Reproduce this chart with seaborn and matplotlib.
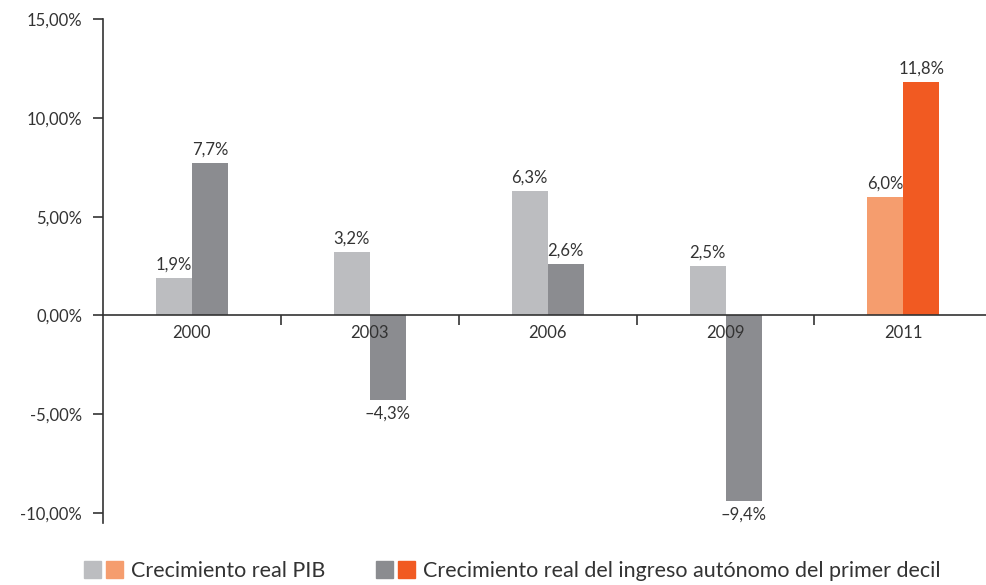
import numpy as np
import pandas as pd
import matplotlib
matplotlib.use("Agg")
import matplotlib.pyplot as plt
import seaborn as sns
from matplotlib.patches import Patch
from matplotlib.legend_handler import HandlerTuple
from matplotlib.ticker import FixedLocator, FuncFormatter

# Data
years = ["2000", "2003", "2006", "2009", "2011"]
pib = [1.9, 3.2, 6.3, 2.5, 6.0]
ingreso = [7.7, -4.3, 2.6, -9.4, 11.8]
series_names = ["Crecimiento real PIB",
                "Crecimiento real del ingreso autónomo del primer decil"]

light_gray = "#BCBDC0"
dark_gray = "#8B8C90"
light_orange = "#F59D6E"
orange = "#F15A22"
text_color = "#333333"

df = pd.DataFrame({
    "year": years * 2,
    "serie": [series_names[0]] * len(years) + [series_names[1]] * len(years),
    "value": pib + ingreso,
})

sns.set_style("white")
plt.rcParams["font.family"] = ["Lato", "DejaVu Sans"]
plt.rcParams["text.color"] = text_color

fig = plt.figure(figsize=(9.87, 5.85), dpi=100)
ax = fig.add_axes([103 / 987, 1 - 523 / 585, 1 - 103 / 987, (523 - 19) / 585])

sns.barplot(data=df, x="year", y="value", hue="serie",
            palette=[light_gray, dark_gray], width=0.405, gap=0,
            saturation=1, legend=False, ax=ax)

# 2011 highlighted in orange
ax.containers[0][4].set_facecolor(light_orange)
ax.containers[1][4].set_facecolor(orange)
for p in ax.patches:
    p.set_edgecolor("none")
    p.set_linewidth(0)
    p.set_zorder(0.8)

def pct(v):
    s = f"{abs(v):.1f}".replace(".", ",") + "%"
    return ("–" + s) if v < 0 else s

for cont, vals in zip(ax.containers, [pib, ingreso]):
    ax.bar_label(cont, labels=[pct(v) for v in vals], padding=4,
                 fontsize=12, color=text_color)

ax.set_xlim(-0.5, 4.47)
ax.set_ylim(-10.5, 15)
ax.set_xlabel("")
ax.set_ylabel("")
ax.set_axisbelow(False)

# spines
for s in ["top", "right"]:
    ax.spines[s].set_visible(False)
ax.spines["bottom"].set_position(("data", 0))
for s in ["left", "bottom"]:
    ax.spines[s].set_color(text_color)
    ax.spines[s].set_linewidth(1.2)
ax.spines["left"].set_bounds(-10.5, 15)

ax.yaxis.set_major_locator(FixedLocator([-10, -5, 0, 5, 10, 15]))
ax.yaxis.set_major_formatter(FuncFormatter(
    lambda v, _: ("-" if v < 0 else "") + f"{abs(v):.2f}".replace(".", ",") + "%"))
ax.tick_params(axis="y", direction="out", length=7, width=1.2,
               color=text_color, pad=8, labelsize=12, labelcolor=text_color, left=True)
ax.xaxis.set_minor_locator(FixedLocator([0.5, 1.5, 2.5, 3.5]))
ax.tick_params(axis="x", which="major", length=0, pad=7, labelsize=12,
               labelcolor=text_color)
ax.tick_params(axis="x", which="minor", direction="out", length=7, width=1.2,
               color=text_color, bottom=True)
ax.grid(False)

handles = [(Patch(color=light_gray), Patch(color=light_orange)),
           (Patch(color=dark_gray), Patch(color=orange))]
fig.legend(handles, series_names,
           handler_map={tuple: HandlerTuple(ndivide=None, pad=0.26)},
           loc="center left", bbox_to_anchor=(84 / 987, 1 - 571 / 585),
           bbox_transform=fig.transFigure, ncol=2, frameon=False,
           fontsize=15.5, handlelength=1.8, handleheight=0.84,
           handletextpad=0.37, columnspacing=2.37, borderpad=0,
           borderaxespad=0, labelcolor=text_color)

fig.savefig("out.png", dpi=100)
